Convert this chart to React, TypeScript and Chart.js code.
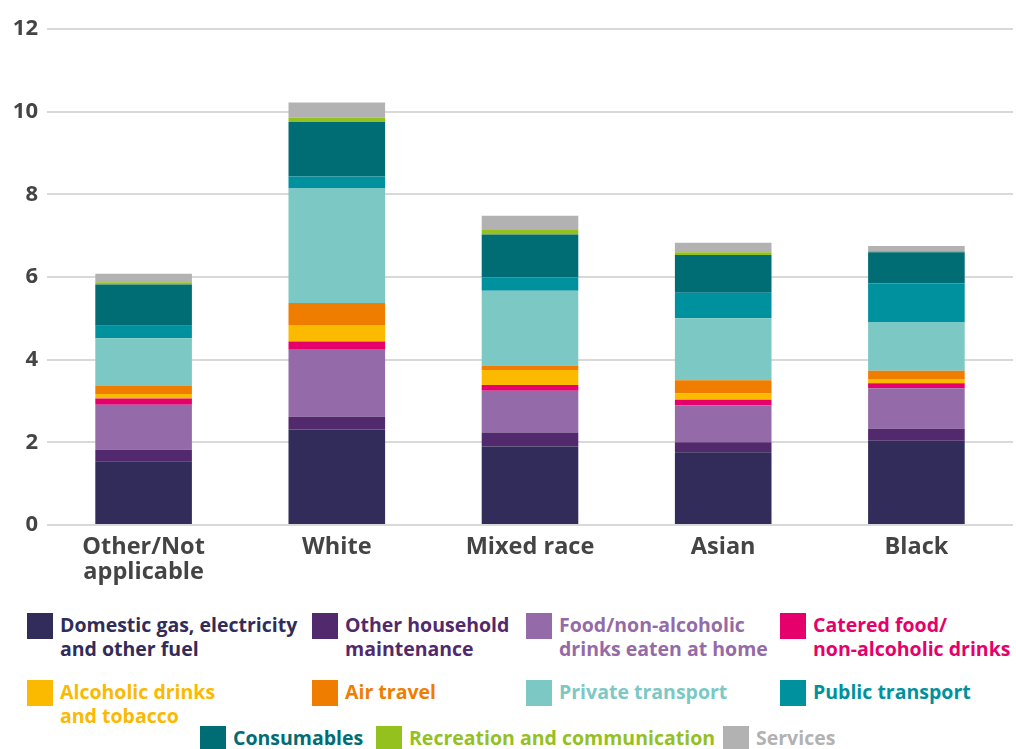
import React, { useEffect, useRef } from "react";
import { Chart, registerables } from "chart.js";

Chart.register(...registerables);

const categories: (string | string[])[] = [["Other/Not", "applicable"], "White", "Mixed race", "Asian", "Black"];
const yTicks = [0, 2, 4, 6, 8, 10, 12];

const domesticFuel = [1.54, 2.31, 1.9, 1.76, 2.04];
const otherHousehold = [0.28, 0.31, 0.34, 0.24, 0.29];
const foodAtHome = [1.09, 1.62, 1.01, 0.9, 0.98];
const cateredFood = [0.15, 0.2, 0.14, 0.13, 0.12];
const alcoholTobacco = [0.11, 0.4, 0.36, 0.16, 0.1];
const airTravel = [0.19, 0.53, 0.11, 0.31, 0.2];
const privateTransport = [1.16, 2.77, 1.81, 1.5, 1.18];
const publicTransport = [0.3, 0.29, 0.32, 0.62, 0.93];
const consumables = [1.0, 1.32, 1.04, 0.91, 0.76];
const recreation = [0.05, 0.1, 0.11, 0.07, 0.03];
const services = [0.21, 0.37, 0.34, 0.23, 0.12];

const seriesNames: string[][] = [
  ["Domestic gas, electricity", "and other fuel"],
  ["Other household", "maintenance"],
  ["Food/non-alcoholic", "drinks eaten at home"],
  ["Catered food/", "non-alcoholic drinks"],
  ["Alcoholic drinks", "and tobacco"],
  ["Air travel"],
  ["Private transport"],
  ["Public transport"],
  ["Consumables"],
  ["Recreation and communication"],
  ["Services"],
];
const seriesValues = [
  domesticFuel, otherHousehold, foodAtHome, cateredFood, alcoholTobacco, airTravel,
  privateTransport, publicTransport, consumables, recreation, services,
];
const seriesColors = [
  "#312c59", "#52296c", "#956aa8", "#e5006b", "#fbb900", "#ef7d00",
  "#7cc8c4", "#00919e", "#006c74", "#95c11f", "#b2b2b2",
];

const FONT = "'Open Sans', Lato, sans-serif";

// legend placement (layout only)
const legendPos: { left: number; top: number }[] = [
  { left: 27, top: 613 }, { left: 312, top: 613 }, { left: 526, top: 613 }, { left: 780, top: 613 },
  { left: 27, top: 680 }, { left: 312, top: 680 }, { left: 526, top: 680 }, { left: 780, top: 680 },
  { left: 200, top: 726 }, { left: 376, top: 726 }, { left: 723, top: 726 },
];

export default function App() {
  const ref = useRef<HTMLCanvasElement | null>(null);

  useEffect(() => {
    if (!ref.current) return;
    const chart = new Chart(ref.current, {
      type: "bar",
      data: {
        labels: categories,
        datasets: seriesValues.map((vals, i) => ({
          label: seriesNames[i].join(" "),
          data: vals,
          backgroundColor: seriesColors[i],
          borderWidth: 0,
          categoryPercentage: 1,
          barPercentage: 0.5,
        })),
      },
      options: {
        responsive: false,
        animation: false,
        layout: { padding: { top: 29, right: 3, left: 0, bottom: 0 } },
        plugins: { legend: { display: false }, tooltip: { enabled: false } },
        scales: {
          x: {
            stacked: true,
            grid: { display: false },
            border: { display: false },
            ticks: {
              color: "#444444",
              font: { family: FONT, size: 23.5, weight: "bold", lineHeight: 1.05 },
              padding: 2,
              maxRotation: 0,
              autoSkip: false,
            },
            afterFit: (s: any) => { s.height = 75; },
          },
          y: {
            stacked: true,
            min: 0,
            max: 12,
            afterBuildTicks: (s: any) => { s.ticks = yTicks.map((v) => ({ value: v })); },
            grid: { color: "#d9d9d9", lineWidth: 2, drawTicks: false },
            border: { display: false },
            ticks: {
              color: "#444444",
              font: { family: FONT, size: 22, weight: "bold" },
              padding: 9,
            },
            afterFit: (s: any) => { s.width = 47; },
          },
        },
      },
    });
    return () => chart.destroy();
  }, []);

  return (
    <div style={{ position: "fixed", left: 0, top: 0, width: 1016, height: 749, background: "#fff", overflow: "hidden", fontFamily: FONT }}>
      <canvas ref={ref} width={1016} height={600} style={{ position: "absolute", left: 0, top: 0, width: 1016, height: 600 }} />
      {seriesNames.map((name, i) => (
        <div key={i} style={{ position: "absolute", left: legendPos[i].left, top: legendPos[i].top, display: "flex", alignItems: "flex-start" }}>
          <div style={{ width: 26, height: 26, background: seriesColors[i], flex: "0 0 auto" }} />
          <div style={{ marginLeft: 7, marginTop: 0, color: seriesColors[i], fontWeight: 700, fontSize: 19.5, lineHeight: "24px", whiteSpace: "nowrap" }}>
            {name.map((line, j) => (
              <div key={j}>{line}</div>
            ))}
          </div>
        </div>
      ))}
    </div>
  );
}
